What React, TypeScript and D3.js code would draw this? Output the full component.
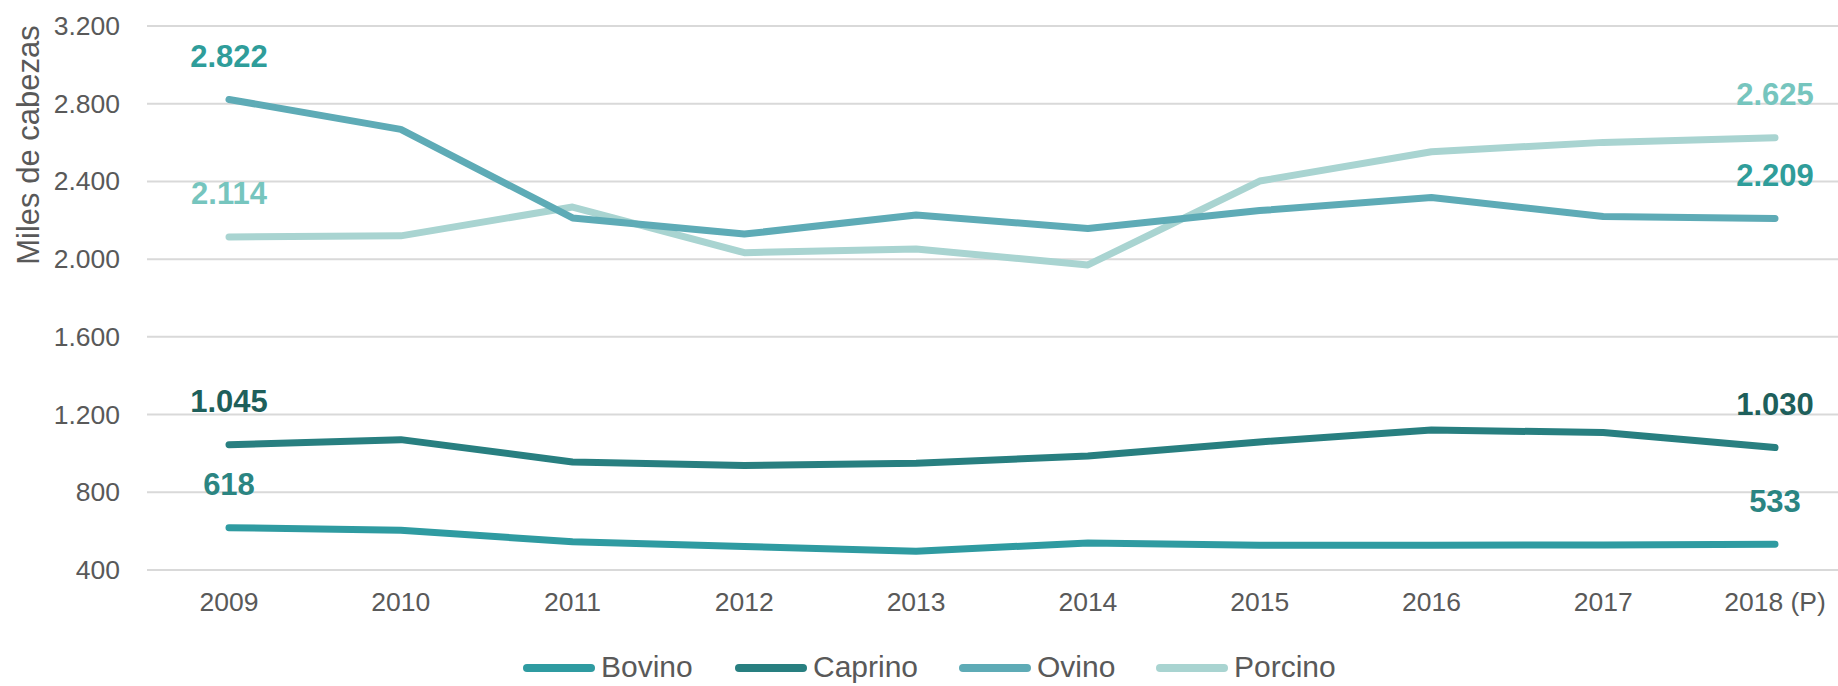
import React from "react";
import * as d3 from "d3";

const years = ["2009", "2010", "2011", "2012", "2013", "2014", "2015", "2016", "2017", "2018 (P)"];
const bovino = [618, 605, 545, 521, 497, 539, 527, 527, 529, 533];
const caprino = [1045, 1071, 956, 938, 950, 987, 1059, 1120, 1108, 1030];
const ovino = [2822, 2668, 2212, 2129, 2227, 2158, 2250, 2317, 2220, 2209];
const porcino = [2114, 2120, 2268, 2033, 2052, 1970, 2402, 2553, 2601, 2625];
const yTicks = [400, 800, 1200, 1600, 2000, 2400, 2800, 3200];

const series = [
  { name: "Bovino", values: bovino, color: "#2f9ba1", label: "#2b8582" },
  { name: "Caprino", values: caprino, color: "#287f80", label: "#1e5f5b" },
  { name: "Ovino", values: ovino, color: "#5eabb6", label: "#2f9d9a" },
  { name: "Porcino", values: porcino, color: "#a9d4d1", label: "#76c5be" },
];

const fmt = (v: number) => {
  const s = String(v);
  return s.length > 3 ? s.slice(0, s.length - 3) + "." + s.slice(s.length - 3) : s;
};

export default function App() {
  const W = 1838, H = 686;
  const x = d3.scalePoint<string>().domain(years).range([229, 1775]);
  const y = d3.scaleLinear().domain([400, 3200]).range([570, 26]);
  const line = d3.line<number>().x((_, i) => x(years[i]) as number).y((d) => y(d));
  const font = "'Liberation Sans', Arial, sans-serif";
  const legendX = [523, 735, 959, 1156];
  const legendY = 666;
  const last = years.length - 1;
  return (
    <div style={{ position: "absolute", left: 0, top: 0 }}>
      <svg width={W} height={H} style={{ display: "block", background: "#fff" }} fontFamily={font}>
        {yTicks.map((t) => (
          <g key={t}>
            <line x1={147} x2={W} y1={y(t)} y2={y(t)} stroke="#d9d9d9" strokeWidth={2} />
            <text x={120} y={y(t)} textAnchor="end" dominantBaseline="central" fontSize={26.5} fill="#595959">
              {fmt(t)}
            </text>
          </g>
        ))}
        <text
          transform={`translate(28,145) rotate(-90)`}
          textAnchor="middle"
          dominantBaseline="central"
          fontSize={31}
          fill="#595959"
        >
          Miles de cabezas
        </text>
        {years.map((yr) => (
          <text key={yr} x={x(yr)} y={602} textAnchor="middle" dominantBaseline="central" fontSize={26.5} fill="#595959">
            {yr}
          </text>
        ))}
        {[...series].reverse().map((s) => (
          <path key={s.name} d={line(s.values) || ""} fill="none" stroke={s.color} strokeWidth={7} strokeLinecap="round" strokeLinejoin="round" />
        ))}
        {series.map((s) => (
          <g key={s.name + "-lbl"}>
            <text x={x(years[0])} y={y(s.values[0]) - 43} textAnchor="middle" dominantBaseline="central" fontSize={31} fontWeight="bold" fill={s.label}>
              {fmt(s.values[0])}
            </text>
            <text x={x(years[last])} y={y(s.values[last]) - 43} textAnchor="middle" dominantBaseline="central" fontSize={31} fontWeight="bold" fill={s.label}>
              {fmt(s.values[last])}
            </text>
          </g>
        ))}
        {series.map((s, i) => (
          <g key={s.name + "-leg"}>
            <line x1={legendX[i] + 4} x2={legendX[i] + 68} y1={legendY + 2} y2={legendY + 2} stroke={s.color} strokeWidth={8} strokeLinecap="round" />
            <text x={legendX[i] + 78} y={legendY} dominantBaseline="central" fontSize={30} fill="#595959">
              {s.name}
            </text>
          </g>
        ))}
      </svg>
    </div>
  );
}
